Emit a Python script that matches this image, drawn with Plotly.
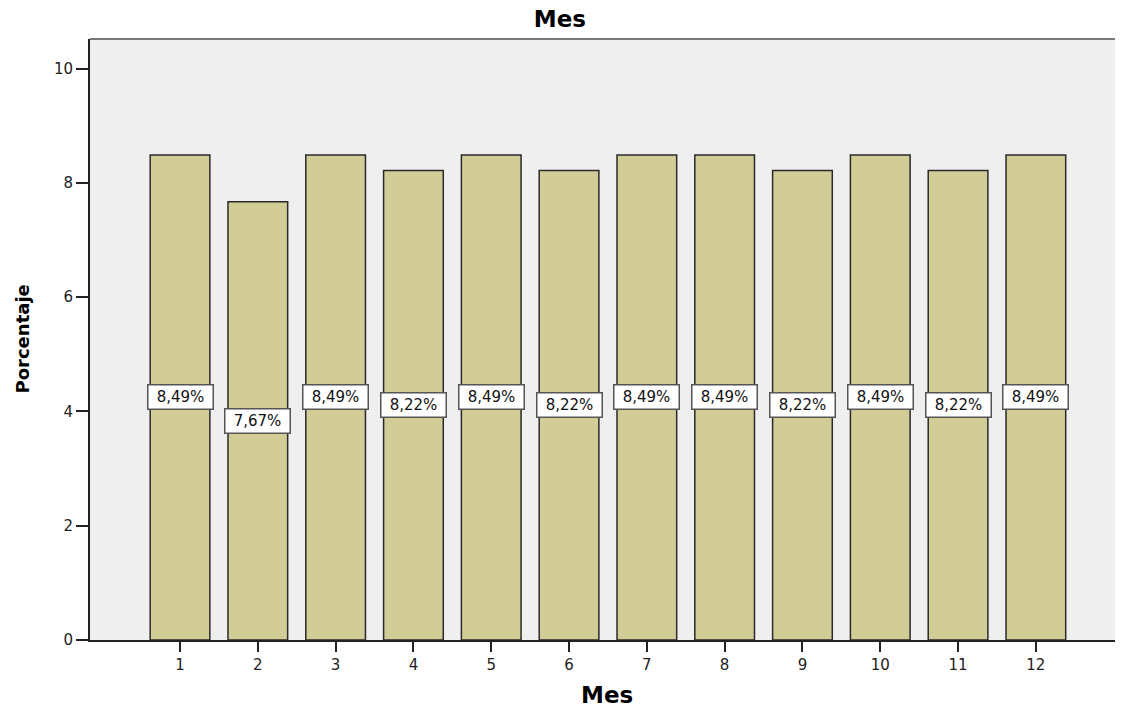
import plotly.graph_objects as go

meses = [1, 2, 3, 4, 5, 6, 7, 8, 9, 10, 11, 12]
porcentajes = [8.49, 7.67, 8.49, 8.22, 8.49, 8.22, 8.49, 8.49, 8.22, 8.49, 8.22, 8.49]
etiquetas = ["8,49%", "7,67%", "8,49%", "8,22%", "8,49%", "8,22%",
             "8,49%", "8,49%", "8,22%", "8,49%", "8,22%", "8,49%"]
yticks = [0, 2, 4, 6, 8, 10]

FONT = "DejaVu Sans, Verdana, sans-serif"

fig = go.Figure()
fig.add_trace(go.Bar(
    x=meses, y=porcentajes, width=0.767,
    marker=dict(color="#D2CD96", line=dict(color="#2a2a2a", width=1.5)),
    hoverinfo="skip",
))

for m, p, t in zip(meses, porcentajes, etiquetas):
    fig.add_annotation(
        x=m, y=p / 2, text=t, showarrow=False,
        font=dict(family=FONT, size=15, color="#111"),
        width=60, height=19,
        bgcolor="white", bordercolor="#555", borderwidth=1.5, borderpad=2,
    )

# axis titles
fig.add_annotation(x=0.5, y=0, xref="paper", yref="paper", yshift=-55,
                   text="<b>Mes</b>", showarrow=False, yanchor="middle",
                   font=dict(family=FONT, size=23, color="black"))
fig.add_annotation(x=0, y=0.5, xref="paper", yref="paper", xshift=-68,
                   text="<b>Porcentaje</b>", showarrow=False, textangle=-90,
                   xanchor="center", yanchor="middle",
                   font=dict(family=FONT, size=18, color="black"))

fig.add_shape(type="line", xref="paper", yref="paper", x0=0, x1=1, y0=1, y1=1,
              line=dict(color="#777", width=2))

fig.update_layout(
    width=1115, height=700,
    margin=dict(l=82, r=0, t=31, b=68),
    paper_bgcolor="white", plot_bgcolor="#EFEFEF",
    showlegend=False,
    title=dict(text="<b>Mes</b>", x=0.495, xanchor="center", y=0.984, yanchor="middle",
               font=dict(family=FONT, size=23, color="black")),
    xaxis=dict(range=[-0.157, 13.12], tickvals=meses, ticktext=[str(m) for m in meses],
               ticks="outside", ticklen=10, tickwidth=1.5, tickcolor="#222",
               showgrid=False, zeroline=False, showline=True, linecolor="#222", linewidth=2,
               tickfont=dict(family=FONT, size=15, color="#222")),
    yaxis=dict(range=[0, 10.52], tickvals=yticks,
               ticks="outside", ticklen=12, tickwidth=1.5, tickcolor="#222",
               showgrid=False, zeroline=False, showline=True, linecolor="#222", linewidth=2,
               tickfont=dict(family=FONT, size=15, color="#222")),
)

fig.write_html("out.html")
